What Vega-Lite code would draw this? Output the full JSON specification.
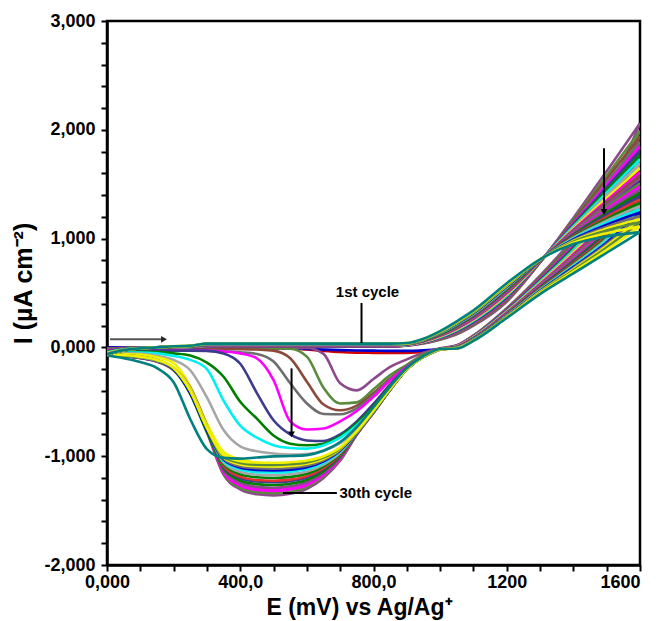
{
  "$schema": "https://vega.github.io/schema/vega-lite/v6.json",
  "width": 533,
  "height": 544,
  "autosize": {"type": "none"},
  "padding": {"left": 107, "top": 21, "right": 20, "bottom": 56},
  "background": "white",
  "config": {
    "view": {"stroke": "black", "strokeWidth": 2.5},
    "font": "Liberation Sans",
    "axis": {
      "grid": false,
      "domainColor": "black",
      "domainWidth": 2.5,
      "labelFont": "Liberation Sans",
      "labelFontWeight": "bold",
      "labelFontSize": 18,
      "labelColor": "black",
      "labelOverlap": false,
      "labelBound": false,
      "titleFont": "Liberation Sans",
      "titleFontWeight": "bold",
      "titleColor": "black"
    }
  },
  "datasets": {
    "cv": [
{"c":1,"e":0,"f":0,"r":0},{"c":1,"e":50,"f":0,"r":0},{"c":1,"e":100,"f":0,"r":0},{"c":1,"e":150,"f":0,"r":0},{"c":1,"e":200,"f":0,"r":0},{"c":1,"e":250,"f":1,"r":0},{"c":1,"e":300,"f":6,"r":-2},{"c":1,"e":350,"f":6,"r":-3},{"c":1,"e":400,"f":6,"r":-4},{"c":1,"e":450,"f":6,"r":-5},{"c":1,"e":500,"f":6,"r":-6},{"c":1,"e":550,"f":6,"r":-10},{"c":1,"e":600,"f":6,"r":-20},{"c":1,"e":650,"f":6,"r":-32},{"c":1,"e":700,"f":6,"r":-42},{"c":1,"e":750,"f":6,"r":-48},{"c":1,"e":800,"f":6,"r":-50},{"c":1,"e":850,"f":6,"r":-52},{"c":1,"e":900,"f":26,"r":-50},{"c":1,"e":950,"f":54,"r":-42},{"c":1,"e":1000,"f":104,"r":-22},{"c":1,"e":1050,"f":172,"r":7},{"c":1,"e":1100,"f":260,"r":89},{"c":1,"e":1200,"f":493,"r":321},{"c":1,"e":1300,"f":793,"r":587},{"c":1,"e":1400,"f":1087,"r":862},{"c":1,"e":1500,"f":1362,"r":1172},{"c":1,"e":1600,"f":1630,"r":1630},
{"c":2,"e":0,"f":0,"r":-8},{"c":2,"e":50,"f":0,"r":-6},{"c":2,"e":100,"f":0,"r":-5},{"c":2,"e":150,"f":0,"r":-4},{"c":2,"e":200,"f":1,"r":-3},{"c":2,"e":250,"f":1,"r":-3},{"c":2,"e":300,"f":7,"r":-3},{"c":2,"e":350,"f":7,"r":-4},{"c":2,"e":400,"f":7,"r":-5},{"c":2,"e":450,"f":7,"r":-6},{"c":2,"e":500,"f":7,"r":-7},{"c":2,"e":550,"f":7,"r":-9},{"c":2,"e":600,"f":7,"r":-14},{"c":2,"e":650,"f":7,"r":-20},{"c":2,"e":700,"f":7,"r":-25},{"c":2,"e":750,"f":7,"r":-28},{"c":2,"e":800,"f":7,"r":-30},{"c":2,"e":850,"f":7,"r":-32},{"c":2,"e":900,"f":28,"r":-32},{"c":2,"e":950,"f":59,"r":-27},{"c":2,"e":1000,"f":112,"r":-15},{"c":2,"e":1050,"f":184,"r":4},{"c":2,"e":1100,"f":274,"r":84},{"c":2,"e":1200,"f":510,"r":312},{"c":2,"e":1300,"f":796,"r":570},{"c":2,"e":1400,"f":1063,"r":830},{"c":2,"e":1500,"f":1302,"r":1119},{"c":2,"e":1600,"f":1530,"r":1530},
{"c":3,"e":0,"f":-8,"r":-15},{"c":3,"e":50,"f":-3,"r":-12},{"c":3,"e":100,"f":-1,"r":-10},{"c":3,"e":150,"f":0,"r":-9},{"c":3,"e":200,"f":1,"r":-8},{"c":3,"e":250,"f":2,"r":-8},{"c":3,"e":300,"f":8,"r":-8},{"c":3,"e":350,"f":8,"r":-8},{"c":3,"e":400,"f":8,"r":-8},{"c":3,"e":450,"f":8,"r":-8},{"c":3,"e":500,"f":8,"r":-8},{"c":3,"e":550,"f":8,"r":-8},{"c":3,"e":600,"f":8,"r":-5},{"c":3,"e":650,"f":8,"r":-60},{"c":3,"e":700,"f":8,"r":-330},{"c":3,"e":750,"f":8,"r":-395},{"c":3,"e":800,"f":8,"r":-290},{"c":3,"e":850,"f":8,"r":-180},{"c":3,"e":900,"f":15,"r":-110},{"c":3,"e":950,"f":35,"r":-50},{"c":3,"e":1000,"f":70,"r":-8},{"c":3,"e":1050,"f":120,"r":20},{"c":3,"e":1100,"f":200,"r":110},{"c":3,"e":1200,"f":420,"r":360},{"c":3,"e":1300,"f":780,"r":660},{"c":3,"e":1400,"f":1190,"r":1000},{"c":3,"e":1500,"f":1620,"r":1400},{"c":3,"e":1600,"f":2060,"r":2060},
{"c":4,"e":0,"f":-15,"r":-20},{"c":4,"e":50,"f":-6,"r":-16},{"c":4,"e":100,"f":-2,"r":-13},{"c":4,"e":150,"f":0,"r":-11},{"c":4,"e":200,"f":1,"r":-10},{"c":4,"e":250,"f":2,"r":-10},{"c":4,"e":300,"f":9,"r":-10},{"c":4,"e":350,"f":9,"r":-10},{"c":4,"e":400,"f":9,"r":-10},{"c":4,"e":450,"f":9,"r":-10},{"c":4,"e":500,"f":9,"r":-10},{"c":4,"e":550,"f":9,"r":-12},{"c":4,"e":600,"f":9,"r":-85},{"c":4,"e":650,"f":9,"r":-370},{"c":4,"e":700,"f":9,"r":-515},{"c":4,"e":750,"f":9,"r":-505},{"c":4,"e":800,"f":9,"r":-385},{"c":4,"e":850,"f":9,"r":-255},{"c":4,"e":900,"f":17,"r":-160},{"c":4,"e":950,"f":38,"r":-65},{"c":4,"e":1000,"f":76,"r":-15},{"c":4,"e":1050,"f":128,"r":18},{"c":4,"e":1100,"f":210,"r":107},{"c":4,"e":1200,"f":432,"r":354},{"c":4,"e":1300,"f":782,"r":648},{"c":4,"e":1400,"f":1173,"r":978},{"c":4,"e":1500,"f":1578,"r":1363},{"c":4,"e":1600,"f":1990,"r":1990},
{"c":5,"e":0,"f":-20,"r":-25},{"c":5,"e":50,"f":-8,"r":-20},{"c":5,"e":100,"f":-3,"r":-17},{"c":5,"e":150,"f":0,"r":-15},{"c":5,"e":200,"f":2,"r":-14},{"c":5,"e":250,"f":2,"r":-13},{"c":5,"e":300,"f":10,"r":-13},{"c":5,"e":350,"f":10,"r":-14},{"c":5,"e":400,"f":10,"r":-16},{"c":5,"e":450,"f":10,"r":-20},{"c":5,"e":500,"f":10,"r":-30},{"c":5,"e":550,"f":10,"r":-100},{"c":5,"e":600,"f":10,"r":-315},{"c":5,"e":650,"f":10,"r":-525},{"c":5,"e":700,"f":10,"r":-578},{"c":5,"e":750,"f":10,"r":-535},{"c":5,"e":800,"f":10,"r":-420},{"c":5,"e":850,"f":10,"r":-285},{"c":5,"e":900,"f":18,"r":-175},{"c":5,"e":950,"f":40,"r":-90},{"c":5,"e":1000,"f":80,"r":-20},{"c":5,"e":1050,"f":134,"r":16},{"c":5,"e":1100,"f":217,"r":104},{"c":5,"e":1200,"f":440,"r":349},{"c":5,"e":1300,"f":784,"r":640},{"c":5,"e":1400,"f":1161,"r":962},{"c":5,"e":1500,"f":1548,"r":1336},{"c":5,"e":1600,"f":1940,"r":1940},
{"c":6,"e":0,"f":-25,"r":-30},{"c":6,"e":50,"f":-10,"r":-25},{"c":6,"e":100,"f":-4,"r":-22},{"c":6,"e":150,"f":0,"r":-20},{"c":6,"e":200,"f":2,"r":-20},{"c":6,"e":250,"f":3,"r":-22},{"c":6,"e":300,"f":11,"r":-25},{"c":6,"e":350,"f":11,"r":-35},{"c":6,"e":400,"f":11,"r":-45},{"c":6,"e":450,"f":11,"r":-60},{"c":6,"e":500,"f":11,"r":-130},{"c":6,"e":550,"f":11,"r":-330},{"c":6,"e":600,"f":11,"r":-515},{"c":6,"e":650,"f":11,"r":-612},{"c":6,"e":700,"f":11,"r":-615},{"c":6,"e":750,"f":11,"r":-560},{"c":6,"e":800,"f":11,"r":-440},{"c":6,"e":850,"f":11,"r":-295},{"c":6,"e":900,"f":19,"r":-175},{"c":6,"e":950,"f":43,"r":-85},{"c":6,"e":1000,"f":84,"r":-18},{"c":6,"e":1050,"f":140,"r":15},{"c":6,"e":1100,"f":224,"r":102},{"c":6,"e":1200,"f":449,"r":345},{"c":6,"e":1300,"f":785,"r":631},{"c":6,"e":1400,"f":1149,"r":946},{"c":6,"e":1500,"f":1518,"r":1310},{"c":6,"e":1600,"f":1890,"r":1890},
{"c":7,"e":0,"f":-30,"r":-35},{"c":7,"e":50,"f":-12,"r":-30},{"c":7,"e":100,"f":-5,"r":-27},{"c":7,"e":150,"f":0,"r":-25},{"c":7,"e":200,"f":2,"r":-25},{"c":7,"e":250,"f":4,"r":-27},{"c":7,"e":300,"f":12,"r":-30},{"c":7,"e":350,"f":12,"r":-38},{"c":7,"e":400,"f":12,"r":-55},{"c":7,"e":450,"f":12,"r":-100},{"c":7,"e":500,"f":12,"r":-300},{"c":7,"e":550,"f":12,"r":-680},{"c":7,"e":600,"f":12,"r":-755},{"c":7,"e":650,"f":12,"r":-745},{"c":7,"e":700,"f":12,"r":-680},{"c":7,"e":750,"f":12,"r":-585},{"c":7,"e":800,"f":12,"r":-455},{"c":7,"e":850,"f":12,"r":-305},{"c":7,"e":900,"f":20,"r":-180},{"c":7,"e":950,"f":44,"r":-85},{"c":7,"e":1000,"f":87,"r":-18},{"c":7,"e":1050,"f":145,"r":14},{"c":7,"e":1100,"f":229,"r":100},{"c":7,"e":1200,"f":456,"r":341},{"c":7,"e":1300,"f":786,"r":624},{"c":7,"e":1400,"f":1140,"r":933},{"c":7,"e":1500,"f":1494,"r":1289},{"c":7,"e":1600,"f":1850,"r":1850},
{"c":8,"e":0,"f":-35,"r":-40},{"c":8,"e":50,"f":-14,"r":-35},{"c":8,"e":100,"f":-5,"r":-32},{"c":8,"e":150,"f":0,"r":-30},{"c":8,"e":200,"f":3,"r":-30},{"c":8,"e":250,"f":4,"r":-30},{"c":8,"e":300,"f":13,"r":-32},{"c":8,"e":350,"f":13,"r":-55},{"c":8,"e":400,"f":13,"r":-150},{"c":8,"e":450,"f":13,"r":-420},{"c":8,"e":500,"f":13,"r":-670},{"c":8,"e":550,"f":13,"r":-800},{"c":8,"e":600,"f":13,"r":-855},{"c":8,"e":650,"f":13,"r":-860},{"c":8,"e":700,"f":13,"r":-800},{"c":8,"e":750,"f":13,"r":-680},{"c":8,"e":800,"f":13,"r":-520},{"c":8,"e":850,"f":13,"r":-340},{"c":8,"e":900,"f":21,"r":-190},{"c":8,"e":950,"f":46,"r":-85},{"c":8,"e":1000,"f":90,"r":-18},{"c":8,"e":1050,"f":150,"r":13},{"c":8,"e":1100,"f":235,"r":98},{"c":8,"e":1200,"f":463,"r":338},{"c":8,"e":1300,"f":788,"r":618},{"c":8,"e":1400,"f":1130,"r":920},{"c":8,"e":1500,"f":1470,"r":1268},{"c":8,"e":1600,"f":1810,"r":1810},
{"c":9,"e":0,"f":-40,"r":-45},{"c":9,"e":50,"f":-16,"r":-42},{"c":9,"e":100,"f":-6,"r":-40},{"c":9,"e":150,"f":0,"r":-42},{"c":9,"e":200,"f":3,"r":-55},{"c":9,"e":250,"f":5,"r":-75},{"c":9,"e":300,"f":14,"r":-140},{"c":9,"e":350,"f":14,"r":-270},{"c":9,"e":400,"f":14,"r":-500},{"c":9,"e":450,"f":14,"r":-655},{"c":9,"e":500,"f":14,"r":-810},{"c":9,"e":550,"f":14,"r":-885},{"c":9,"e":600,"f":14,"r":-900},{"c":9,"e":650,"f":14,"r":-885},{"c":9,"e":700,"f":14,"r":-815},{"c":9,"e":750,"f":14,"r":-700},{"c":9,"e":800,"f":14,"r":-545},{"c":9,"e":850,"f":14,"r":-355},{"c":9,"e":900,"f":22,"r":-195},{"c":9,"e":950,"f":48,"r":-85},{"c":9,"e":1000,"f":93,"r":-18},{"c":9,"e":1050,"f":155,"r":11},{"c":9,"e":1100,"f":241,"r":96},{"c":9,"e":1200,"f":469,"r":334},{"c":9,"e":1300,"f":789,"r":611},{"c":9,"e":1400,"f":1120,"r":907},{"c":9,"e":1500,"f":1446,"r":1246},{"c":9,"e":1600,"f":1770,"r":1770},
{"c":10,"e":0,"f":-45,"r":-50},{"c":10,"e":50,"f":-18,"r":-48},{"c":10,"e":100,"f":-7,"r":-48},{"c":10,"e":150,"f":0,"r":-55},{"c":10,"e":200,"f":3,"r":-78},{"c":10,"e":250,"f":5,"r":-115},{"c":10,"e":300,"f":15,"r":-200},{"c":10,"e":350,"f":15,"r":-490},{"c":10,"e":400,"f":15,"r":-720},{"c":10,"e":450,"f":15,"r":-830},{"c":10,"e":500,"f":15,"r":-900},{"c":10,"e":550,"f":15,"r":-925},{"c":10,"e":600,"f":15,"r":-930},{"c":10,"e":650,"f":15,"r":-900},{"c":10,"e":700,"f":15,"r":-830},{"c":10,"e":750,"f":15,"r":-715},{"c":10,"e":800,"f":15,"r":-560},{"c":10,"e":850,"f":15,"r":-365},{"c":10,"e":900,"f":23,"r":-200},{"c":10,"e":950,"f":50,"r":-85},{"c":10,"e":1000,"f":96,"r":-18},{"c":10,"e":1050,"f":160,"r":10},{"c":10,"e":1100,"f":246,"r":94},{"c":10,"e":1200,"f":476,"r":330},{"c":10,"e":1300,"f":790,"r":604},{"c":10,"e":1400,"f":1111,"r":894},{"c":10,"e":1500,"f":1422,"r":1225},{"c":10,"e":1600,"f":1730,"r":1730},
{"c":11,"e":0,"f":-50,"r":-55},{"c":11,"e":50,"f":-20,"r":-55},{"c":11,"e":100,"f":-8,"r":-58},{"c":11,"e":150,"f":0,"r":-78},{"c":11,"e":200,"f":4,"r":-115},{"c":11,"e":250,"f":6,"r":-210},{"c":11,"e":300,"f":16,"r":-460},{"c":11,"e":350,"f":16,"r":-760},{"c":11,"e":400,"f":16,"r":-910},{"c":11,"e":450,"f":16,"r":-955},{"c":11,"e":500,"f":16,"r":-975},{"c":11,"e":550,"f":16,"r":-985},{"c":11,"e":600,"f":16,"r":-980},{"c":11,"e":650,"f":16,"r":-950},{"c":11,"e":700,"f":16,"r":-880},{"c":11,"e":750,"f":16,"r":-755},{"c":11,"e":800,"f":16,"r":-580},{"c":11,"e":850,"f":16,"r":-375},{"c":11,"e":900,"f":24,"r":-200},{"c":11,"e":950,"f":52,"r":-85},{"c":11,"e":1000,"f":100,"r":-18},{"c":11,"e":1050,"f":164,"r":9},{"c":11,"e":1100,"f":252,"r":92},{"c":11,"e":1200,"f":483,"r":327},{"c":11,"e":1300,"f":791,"r":597},{"c":11,"e":1400,"f":1101,"r":882},{"c":11,"e":1500,"f":1398,"r":1204},{"c":11,"e":1600,"f":1690,"r":1690},
{"c":12,"e":0,"f":-55,"r":-60},{"c":12,"e":50,"f":-22,"r":-62},{"c":12,"e":100,"f":-8,"r":-66},{"c":12,"e":150,"f":0,"r":-90},{"c":12,"e":200,"f":4,"r":-145},{"c":12,"e":250,"f":6,"r":-360},{"c":12,"e":300,"f":17,"r":-700},{"c":12,"e":350,"f":17,"r":-960},{"c":12,"e":400,"f":17,"r":-1030},{"c":12,"e":450,"f":17,"r":-1060},{"c":12,"e":500,"f":17,"r":-1070},{"c":12,"e":550,"f":17,"r":-1065},{"c":12,"e":600,"f":17,"r":-1050},{"c":12,"e":650,"f":17,"r":-1010},{"c":12,"e":700,"f":17,"r":-920},{"c":12,"e":750,"f":17,"r":-780},{"c":12,"e":800,"f":17,"r":-590},{"c":12,"e":850,"f":17,"r":-385},{"c":12,"e":900,"f":25,"r":-205},{"c":12,"e":950,"f":53,"r":-85},{"c":12,"e":1000,"f":103,"r":-18},{"c":12,"e":1050,"f":169,"r":8},{"c":12,"e":1100,"f":257,"r":90},{"c":12,"e":1200,"f":490,"r":323},{"c":12,"e":1300,"f":792,"r":590},{"c":12,"e":1400,"f":1092,"r":869},{"c":12,"e":1500,"f":1374,"r":1183},{"c":12,"e":1600,"f":1650,"r":1650},
{"c":13,"e":0,"f":-60,"r":-67},{"c":13,"e":50,"f":-24,"r":-78},{"c":13,"e":100,"f":-9,"r":-95},{"c":13,"e":150,"f":0,"r":-127},{"c":13,"e":200,"f":4,"r":-198},{"c":13,"e":250,"f":6,"r":-392},{"c":13,"e":300,"f":18,"r":-756},{"c":13,"e":350,"f":18,"r":-1134},{"c":13,"e":400,"f":18,"r":-1253},{"c":13,"e":450,"f":18,"r":-1292},{"c":13,"e":500,"f":18,"r":-1300},{"c":13,"e":550,"f":18,"r":-1287},{"c":13,"e":600,"f":18,"r":-1248},{"c":13,"e":650,"f":18,"r":-1160},{"c":13,"e":700,"f":18,"r":-1016},{"c":13,"e":750,"f":18,"r":-794},{"c":13,"e":800,"f":18,"r":-596},{"c":13,"e":850,"f":18,"r":-388},{"c":13,"e":900,"f":26,"r":-200},{"c":13,"e":950,"f":55,"r":-81},{"c":13,"e":1000,"f":106,"r":-16},{"c":13,"e":1050,"f":174,"r":7},{"c":13,"e":1100,"f":263,"r":88},{"c":13,"e":1200,"f":497,"r":320},{"c":13,"e":1300,"f":794,"r":584},{"c":13,"e":1400,"f":1082,"r":856},{"c":13,"e":1500,"f":1350,"r":1162},{"c":13,"e":1600,"f":1610,"r":1610},
{"c":14,"e":0,"f":-67,"r":-68},{"c":14,"e":50,"f":-27,"r":-80},{"c":14,"e":100,"f":-10,"r":-98},{"c":14,"e":150,"f":0,"r":-130},{"c":14,"e":200,"f":5,"r":-200},{"c":14,"e":250,"f":7,"r":-390},{"c":14,"e":300,"f":19,"r":-759},{"c":14,"e":350,"f":19,"r":-1164},{"c":14,"e":400,"f":19,"r":-1296},{"c":14,"e":450,"f":19,"r":-1340},{"c":14,"e":500,"f":19,"r":-1350},{"c":14,"e":550,"f":19,"r":-1335},{"c":14,"e":600,"f":19,"r":-1291},{"c":14,"e":650,"f":19,"r":-1193},{"c":14,"e":700,"f":19,"r":-1036},{"c":14,"e":750,"f":19,"r":-799},{"c":14,"e":800,"f":19,"r":-599},{"c":14,"e":850,"f":19,"r":-390},{"c":14,"e":900,"f":27,"r":-200},{"c":14,"e":950,"f":57,"r":-80},{"c":14,"e":1000,"f":108,"r":-15},{"c":14,"e":1050,"f":178,"r":6},{"c":14,"e":1100,"f":267,"r":86},{"c":14,"e":1200,"f":502,"r":317},{"c":14,"e":1300,"f":794,"r":578},{"c":14,"e":1400,"f":1075,"r":846},{"c":14,"e":1500,"f":1332,"r":1146},{"c":14,"e":1600,"f":1580,"r":1580},
{"c":15,"e":0,"f":-68,"r":-68},{"c":15,"e":50,"f":-27,"r":-80},{"c":15,"e":100,"f":-10,"r":-98},{"c":15,"e":150,"f":0,"r":-130},{"c":15,"e":200,"f":5,"r":-210},{"c":15,"e":250,"f":8,"r":-410},{"c":15,"e":300,"f":20,"r":-780},{"c":15,"e":350,"f":20,"r":-1170},{"c":15,"e":400,"f":20,"r":-1305},{"c":15,"e":450,"f":20,"r":-1350},{"c":15,"e":500,"f":20,"r":-1360},{"c":15,"e":550,"f":20,"r":-1345},{"c":15,"e":600,"f":20,"r":-1300},{"c":15,"e":650,"f":20,"r":-1200},{"c":15,"e":700,"f":20,"r":-1040},{"c":15,"e":750,"f":20,"r":-800},{"c":15,"e":800,"f":20,"r":-600},{"c":15,"e":850,"f":20,"r":-390},{"c":15,"e":900,"f":28,"r":-200},{"c":15,"e":950,"f":58,"r":-80},{"c":15,"e":1000,"f":111,"r":-15},{"c":15,"e":1050,"f":181,"r":5},{"c":15,"e":1100,"f":271,"r":85},{"c":15,"e":1200,"f":507,"r":314},{"c":15,"e":1300,"f":795,"r":573},{"c":15,"e":1400,"f":1068,"r":837},{"c":15,"e":1500,"f":1314,"r":1130},{"c":15,"e":1600,"f":1550,"r":1550},
{"c":16,"e":0,"f":-68,"r":-68},{"c":16,"e":50,"f":-27,"r":-79},{"c":16,"e":100,"f":-10,"r":-97},{"c":16,"e":150,"f":0,"r":-129},{"c":16,"e":200,"f":5,"r":-199},{"c":16,"e":250,"f":8,"r":-391},{"c":16,"e":300,"f":21,"r":-759},{"c":16,"e":350,"f":21,"r":-1158},{"c":16,"e":400,"f":21,"r":-1288},{"c":16,"e":450,"f":21,"r":-1330},{"c":16,"e":500,"f":21,"r":-1340},{"c":16,"e":550,"f":21,"r":-1326},{"c":16,"e":600,"f":21,"r":-1283},{"c":16,"e":650,"f":21,"r":-1187},{"c":16,"e":700,"f":21,"r":-1032},{"c":16,"e":750,"f":21,"r":-798},{"c":16,"e":800,"f":21,"r":-599},{"c":16,"e":850,"f":21,"r":-389},{"c":16,"e":900,"f":29,"r":-200},{"c":16,"e":950,"f":60,"r":-80},{"c":16,"e":1000,"f":114,"r":-15},{"c":16,"e":1050,"f":186,"r":4},{"c":16,"e":1100,"f":277,"r":83},{"c":16,"e":1200,"f":514,"r":311},{"c":16,"e":1300,"f":797,"r":567},{"c":16,"e":1400,"f":1058,"r":824},{"c":16,"e":1500,"f":1290,"r":1109},{"c":16,"e":1600,"f":1510,"r":1510},
{"c":17,"e":0,"f":-68,"r":-67},{"c":17,"e":50,"f":-27,"r":-79},{"c":17,"e":100,"f":-10,"r":-96},{"c":17,"e":150,"f":0,"r":-128},{"c":17,"e":200,"f":6,"r":-199},{"c":17,"e":250,"f":9,"r":-391},{"c":17,"e":300,"f":22,"r":-757},{"c":17,"e":350,"f":22,"r":-1146},{"c":17,"e":400,"f":22,"r":-1270},{"c":17,"e":450,"f":22,"r":-1311},{"c":17,"e":500,"f":22,"r":-1320},{"c":17,"e":550,"f":22,"r":-1306},{"c":17,"e":600,"f":22,"r":-1265},{"c":17,"e":650,"f":22,"r":-1173},{"c":17,"e":700,"f":22,"r":-1024},{"c":17,"e":750,"f":22,"r":-796},{"c":17,"e":800,"f":22,"r":-597},{"c":17,"e":850,"f":22,"r":-389},{"c":17,"e":900,"f":30,"r":-200},{"c":17,"e":950,"f":61,"r":-81},{"c":17,"e":1000,"f":116,"r":-15},{"c":17,"e":1050,"f":190,"r":3},{"c":17,"e":1100,"f":281,"r":81},{"c":17,"e":1200,"f":519,"r":308},{"c":17,"e":1300,"f":797,"r":561},{"c":17,"e":1400,"f":1051,"r":814},{"c":17,"e":1500,"f":1272,"r":1093},{"c":17,"e":1600,"f":1480,"r":1480},
{"c":18,"e":0,"f":-67,"r":-67},{"c":18,"e":50,"f":-27,"r":-78},{"c":18,"e":100,"f":-10,"r":-95},{"c":18,"e":150,"f":0,"r":-127},{"c":18,"e":200,"f":6,"r":-190},{"c":18,"e":250,"f":9,"r":-370},{"c":18,"e":300,"f":23,"r":-720},{"c":18,"e":350,"f":23,"r":-1128},{"c":18,"e":400,"f":23,"r":-1244},{"c":18,"e":450,"f":23,"r":-1282},{"c":18,"e":500,"f":23,"r":-1290},{"c":18,"e":550,"f":23,"r":-1277},{"c":18,"e":600,"f":23,"r":-1239},{"c":18,"e":650,"f":23,"r":-1153},{"c":18,"e":700,"f":23,"r":-1012},{"c":18,"e":750,"f":23,"r":-793},{"c":18,"e":800,"f":23,"r":-595},{"c":18,"e":850,"f":23,"r":-388},{"c":18,"e":900,"f":30,"r":-200},{"c":18,"e":950,"f":62,"r":-81},{"c":18,"e":1000,"f":119,"r":-16},{"c":18,"e":1050,"f":193,"r":2},{"c":18,"e":1100,"f":285,"r":80},{"c":18,"e":1200,"f":524,"r":305},{"c":18,"e":1300,"f":798,"r":556},{"c":18,"e":1400,"f":1044,"r":805},{"c":18,"e":1500,"f":1254,"r":1077},{"c":18,"e":1600,"f":1450,"r":1450},
{"c":19,"e":0,"f":-67,"r":-66},{"c":19,"e":50,"f":-27,"r":-77},{"c":19,"e":100,"f":-10,"r":-94},{"c":19,"e":150,"f":0,"r":-125},{"c":19,"e":200,"f":6,"r":-197},{"c":19,"e":250,"f":10,"r":-393},{"c":19,"e":300,"f":24,"r":-754},{"c":19,"e":350,"f":24,"r":-1113},{"c":19,"e":400,"f":24,"r":-1223},{"c":19,"e":450,"f":24,"r":-1257},{"c":19,"e":500,"f":24,"r":-1265},{"c":19,"e":550,"f":24,"r":-1253},{"c":19,"e":600,"f":24,"r":-1218},{"c":19,"e":650,"f":24,"r":-1137},{"c":19,"e":700,"f":24,"r":-1002},{"c":19,"e":750,"f":24,"r":-790},{"c":19,"e":800,"f":24,"r":-594},{"c":19,"e":850,"f":24,"r":-387},{"c":19,"e":900,"f":31,"r":-200},{"c":19,"e":950,"f":64,"r":-82},{"c":19,"e":1000,"f":121,"r":-16},{"c":19,"e":1050,"f":197,"r":1},{"c":19,"e":1100,"f":290,"r":78},{"c":19,"e":1200,"f":529,"r":302},{"c":19,"e":1300,"f":799,"r":551},{"c":19,"e":1400,"f":1036,"r":795},{"c":19,"e":1500,"f":1236,"r":1061},{"c":19,"e":1600,"f":1420,"r":1420},
{"c":20,"e":0,"f":-66,"r":-66},{"c":20,"e":50,"f":-26,"r":-76},{"c":20,"e":100,"f":-10,"r":-93},{"c":20,"e":150,"f":0,"r":-124},{"c":20,"e":200,"f":7,"r":-196},{"c":20,"e":250,"f":10,"r":-394},{"c":20,"e":300,"f":25,"r":-752},{"c":20,"e":350,"f":25,"r":-1098},{"c":20,"e":400,"f":25,"r":-1201},{"c":20,"e":450,"f":25,"r":-1233},{"c":20,"e":500,"f":25,"r":-1240},{"c":20,"e":550,"f":25,"r":-1229},{"c":20,"e":600,"f":25,"r":-1196},{"c":20,"e":650,"f":25,"r":-1120},{"c":20,"e":700,"f":25,"r":-992},{"c":20,"e":750,"f":25,"r":-788},{"c":20,"e":800,"f":25,"r":-592},{"c":20,"e":850,"f":25,"r":-386},{"c":20,"e":900,"f":32,"r":-200},{"c":20,"e":950,"f":65,"r":-82},{"c":20,"e":1000,"f":124,"r":-16},{"c":20,"e":1050,"f":200,"r":0},{"c":20,"e":1100,"f":294,"r":77},{"c":20,"e":1200,"f":534,"r":300},{"c":20,"e":1300,"f":800,"r":546},{"c":20,"e":1400,"f":1029,"r":786},{"c":20,"e":1500,"f":1218,"r":1045},{"c":20,"e":1600,"f":1390,"r":1390},
{"c":21,"e":0,"f":-66,"r":-65},{"c":21,"e":50,"f":-26,"r":-76},{"c":21,"e":100,"f":-10,"r":-92},{"c":21,"e":150,"f":0,"r":-123},{"c":21,"e":200,"f":7,"r":-196},{"c":21,"e":250,"f":11,"r":-395},{"c":21,"e":300,"f":26,"r":-751},{"c":21,"e":350,"f":26,"r":-1089},{"c":21,"e":400,"f":26,"r":-1188},{"c":21,"e":450,"f":26,"r":-1219},{"c":21,"e":500,"f":26,"r":-1225},{"c":21,"e":550,"f":26,"r":-1215},{"c":21,"e":600,"f":26,"r":-1183},{"c":21,"e":650,"f":26,"r":-1110},{"c":21,"e":700,"f":26,"r":-986},{"c":21,"e":750,"f":26,"r":-787},{"c":21,"e":800,"f":26,"r":-591},{"c":21,"e":850,"f":26,"r":-386},{"c":21,"e":900,"f":33,"r":-200},{"c":21,"e":950,"f":67,"r":-82},{"c":21,"e":1000,"f":126,"r":-16},{"c":21,"e":1050,"f":204,"r":-1},{"c":21,"e":1100,"f":298,"r":75},{"c":21,"e":1200,"f":539,"r":297},{"c":21,"e":1300,"f":801,"r":541},{"c":21,"e":1400,"f":1022,"r":776},{"c":21,"e":1500,"f":1200,"r":1029},{"c":21,"e":1600,"f":1360,"r":1360},
{"c":22,"e":0,"f":-65,"r":-65},{"c":22,"e":50,"f":-26,"r":-75},{"c":22,"e":100,"f":-10,"r":-91},{"c":22,"e":150,"f":0,"r":-122},{"c":22,"e":200,"f":7,"r":-205},{"c":22,"e":250,"f":11,"r":-430},{"c":22,"e":300,"f":27,"r":-780},{"c":22,"e":350,"f":27,"r":-1074},{"c":22,"e":400,"f":27,"r":-1166},{"c":22,"e":450,"f":27,"r":-1194},{"c":22,"e":500,"f":27,"r":-1200},{"c":22,"e":550,"f":27,"r":-1190},{"c":22,"e":600,"f":27,"r":-1161},{"c":22,"e":650,"f":27,"r":-1093},{"c":22,"e":700,"f":27,"r":-976},{"c":22,"e":750,"f":27,"r":-784},{"c":22,"e":800,"f":27,"r":-589},{"c":22,"e":850,"f":27,"r":-385},{"c":22,"e":900,"f":33,"r":-200},{"c":22,"e":950,"f":68,"r":-83},{"c":22,"e":1000,"f":128,"r":-17},{"c":22,"e":1050,"f":208,"r":-2},{"c":22,"e":1100,"f":302,"r":74},{"c":22,"e":1200,"f":544,"r":294},{"c":22,"e":1300,"f":802,"r":536},{"c":22,"e":1400,"f":1015,"r":766},{"c":22,"e":1500,"f":1182,"r":1013},{"c":22,"e":1600,"f":1330,"r":1330},
{"c":23,"e":0,"f":-65,"r":-64},{"c":23,"e":50,"f":-26,"r":-74},{"c":23,"e":100,"f":-10,"r":-90},{"c":23,"e":150,"f":0,"r":-121},{"c":23,"e":200,"f":8,"r":-194},{"c":23,"e":250,"f":12,"r":-396},{"c":23,"e":300,"f":28,"r":-748},{"c":23,"e":350,"f":28,"r":-1059},{"c":23,"e":400,"f":28,"r":-1145},{"c":23,"e":450,"f":28,"r":-1170},{"c":23,"e":500,"f":28,"r":-1175},{"c":23,"e":550,"f":28,"r":-1166},{"c":23,"e":600,"f":28,"r":-1140},{"c":23,"e":650,"f":28,"r":-1077},{"c":23,"e":700,"f":28,"r":-966},{"c":23,"e":750,"f":28,"r":-781},{"c":23,"e":800,"f":28,"r":-588},{"c":23,"e":850,"f":28,"r":-384},{"c":23,"e":900,"f":34,"r":-200},{"c":23,"e":950,"f":69,"r":-83},{"c":23,"e":1000,"f":131,"r":-17},{"c":23,"e":1050,"f":211,"r":-3},{"c":23,"e":1100,"f":306,"r":72},{"c":23,"e":1200,"f":549,"r":292},{"c":23,"e":1300,"f":803,"r":531},{"c":23,"e":1400,"f":1008,"r":757},{"c":23,"e":1500,"f":1164,"r":997},{"c":23,"e":1600,"f":1300,"r":1300},
{"c":24,"e":0,"f":-64,"r":-64},{"c":24,"e":50,"f":-26,"r":-73},{"c":24,"e":100,"f":-10,"r":-89},{"c":24,"e":150,"f":0,"r":-120},{"c":24,"e":200,"f":8,"r":-193},{"c":24,"e":250,"f":12,"r":-397},{"c":24,"e":300,"f":29,"r":-746},{"c":24,"e":350,"f":29,"r":-1044},{"c":24,"e":400,"f":29,"r":-1123},{"c":24,"e":450,"f":29,"r":-1146},{"c":24,"e":500,"f":29,"r":-1150},{"c":24,"e":550,"f":29,"r":-1142},{"c":24,"e":600,"f":29,"r":-1118},{"c":24,"e":650,"f":29,"r":-1060},{"c":24,"e":700,"f":29,"r":-956},{"c":24,"e":750,"f":29,"r":-779},{"c":24,"e":800,"f":29,"r":-586},{"c":24,"e":850,"f":29,"r":-383},{"c":24,"e":900,"f":35,"r":-200},{"c":24,"e":950,"f":71,"r":-84},{"c":24,"e":1000,"f":133,"r":-17},{"c":24,"e":1050,"f":215,"r":-4},{"c":24,"e":1100,"f":311,"r":71},{"c":24,"e":1200,"f":554,"r":289},{"c":24,"e":1300,"f":804,"r":526},{"c":24,"e":1400,"f":1000,"r":747},{"c":24,"e":1500,"f":1146,"r":981},{"c":24,"e":1600,"f":1270,"r":1270},
{"c":25,"e":0,"f":-64,"r":-63},{"c":25,"e":50,"f":-26,"r":-72},{"c":25,"e":100,"f":-10,"r":-88},{"c":25,"e":150,"f":0,"r":-118},{"c":25,"e":200,"f":8,"r":-200},{"c":25,"e":250,"f":13,"r":-420},{"c":25,"e":300,"f":30,"r":-760},{"c":25,"e":350,"f":30,"r":-1032},{"c":25,"e":400,"f":30,"r":-1106},{"c":25,"e":450,"f":30,"r":-1126},{"c":25,"e":500,"f":30,"r":-1130},{"c":25,"e":550,"f":30,"r":-1123},{"c":25,"e":600,"f":30,"r":-1101},{"c":25,"e":650,"f":30,"r":-1047},{"c":25,"e":700,"f":30,"r":-948},{"c":25,"e":750,"f":30,"r":-777},{"c":25,"e":800,"f":30,"r":-585},{"c":25,"e":850,"f":30,"r":-382},{"c":25,"e":900,"f":36,"r":-200},{"c":25,"e":950,"f":72,"r":-84},{"c":25,"e":1000,"f":136,"r":-17},{"c":25,"e":1050,"f":218,"r":-5},{"c":25,"e":1100,"f":315,"r":69},{"c":25,"e":1200,"f":559,"r":286},{"c":25,"e":1300,"f":805,"r":521},{"c":25,"e":1400,"f":993,"r":738},{"c":25,"e":1500,"f":1128,"r":965},{"c":25,"e":1600,"f":1240,"r":1240},
{"c":26,"e":0,"f":-63,"r":-63},{"c":26,"e":50,"f":-25,"r":-72},{"c":26,"e":100,"f":-9,"r":-87},{"c":26,"e":150,"f":0,"r":-118},{"c":26,"e":200,"f":9,"r":-192},{"c":26,"e":250,"f":13,"r":-398},{"c":26,"e":300,"f":31,"r":-744},{"c":26,"e":350,"f":31,"r":-1023},{"c":26,"e":400,"f":31,"r":-1093},{"c":26,"e":450,"f":31,"r":-1111},{"c":26,"e":500,"f":31,"r":-1115},{"c":26,"e":550,"f":31,"r":-1108},{"c":26,"e":600,"f":31,"r":-1088},{"c":26,"e":650,"f":31,"r":-1037},{"c":26,"e":700,"f":31,"r":-942},{"c":26,"e":750,"f":31,"r":-775},{"c":26,"e":800,"f":31,"r":-584},{"c":26,"e":850,"f":31,"r":-382},{"c":26,"e":900,"f":36,"r":-200},{"c":26,"e":950,"f":73,"r":-84},{"c":26,"e":1000,"f":138,"r":-17},{"c":26,"e":1050,"f":222,"r":-6},{"c":26,"e":1100,"f":319,"r":68},{"c":26,"e":1200,"f":565,"r":284},{"c":26,"e":1300,"f":806,"r":516},{"c":26,"e":1400,"f":986,"r":728},{"c":26,"e":1500,"f":1110,"r":950},{"c":26,"e":1600,"f":1210,"r":1210},
{"c":27,"e":0,"f":-63,"r":-63},{"c":27,"e":50,"f":-25,"r":-71},{"c":27,"e":100,"f":-9,"r":-87},{"c":27,"e":150,"f":0,"r":-117},{"c":27,"e":200,"f":9,"r":-185},{"c":27,"e":250,"f":14,"r":-380},{"c":27,"e":300,"f":32,"r":-720},{"c":27,"e":350,"f":32,"r":-1011},{"c":27,"e":400,"f":32,"r":-1075},{"c":27,"e":450,"f":32,"r":-1092},{"c":27,"e":500,"f":32,"r":-1095},{"c":27,"e":550,"f":32,"r":-1089},{"c":27,"e":600,"f":32,"r":-1070},{"c":27,"e":650,"f":32,"r":-1023},{"c":27,"e":700,"f":32,"r":-934},{"c":27,"e":750,"f":32,"r":-774},{"c":27,"e":800,"f":32,"r":-582},{"c":27,"e":850,"f":32,"r":-381},{"c":27,"e":900,"f":37,"r":-200},{"c":27,"e":950,"f":75,"r":-84},{"c":27,"e":1000,"f":140,"r":-18},{"c":27,"e":1050,"f":226,"r":-6},{"c":27,"e":1100,"f":323,"r":66},{"c":27,"e":1200,"f":570,"r":281},{"c":27,"e":1300,"f":806,"r":510},{"c":27,"e":1400,"f":979,"r":718},{"c":27,"e":1500,"f":1092,"r":934},{"c":27,"e":1600,"f":1180,"r":1180},
{"c":28,"e":0,"f":-63,"r":-62},{"c":28,"e":50,"f":-25,"r":-71},{"c":28,"e":100,"f":-9,"r":-86},{"c":28,"e":150,"f":0,"r":-116},{"c":28,"e":200,"f":9,"r":-191},{"c":28,"e":250,"f":14,"r":-399},{"c":28,"e":300,"f":33,"r":-741},{"c":28,"e":350,"f":33,"r":-1002},{"c":28,"e":400,"f":33,"r":-1062},{"c":28,"e":450,"f":33,"r":-1078},{"c":28,"e":500,"f":33,"r":-1080},{"c":28,"e":550,"f":33,"r":-1074},{"c":28,"e":600,"f":33,"r":-1057},{"c":28,"e":650,"f":33,"r":-1013},{"c":28,"e":700,"f":33,"r":-928},{"c":28,"e":750,"f":33,"r":-772},{"c":28,"e":800,"f":33,"r":-581},{"c":28,"e":850,"f":33,"r":-381},{"c":28,"e":900,"f":38,"r":-200},{"c":28,"e":950,"f":76,"r":-85},{"c":28,"e":1000,"f":143,"r":-18},{"c":28,"e":1050,"f":229,"r":-7},{"c":28,"e":1100,"f":327,"r":65},{"c":28,"e":1200,"f":575,"r":278},{"c":28,"e":1300,"f":807,"r":505},{"c":28,"e":1400,"f":972,"r":709},{"c":28,"e":1500,"f":1074,"r":918},{"c":28,"e":1600,"f":1150,"r":1150},
{"c":29,"e":0,"f":-62,"r":-62},{"c":29,"e":50,"f":-25,"r":-70},{"c":29,"e":100,"f":-9,"r":-85},{"c":29,"e":150,"f":0,"r":-115},{"c":29,"e":200,"f":10,"r":-190},{"c":29,"e":250,"f":15,"r":-400},{"c":29,"e":300,"f":34,"r":-740},{"c":29,"e":350,"f":34,"r":-990},{"c":29,"e":400,"f":34,"r":-1045},{"c":29,"e":450,"f":34,"r":-1058},{"c":29,"e":500,"f":34,"r":-1060},{"c":29,"e":550,"f":34,"r":-1055},{"c":29,"e":600,"f":34,"r":-1040},{"c":29,"e":650,"f":34,"r":-1000},{"c":29,"e":700,"f":34,"r":-920},{"c":29,"e":750,"f":34,"r":-770},{"c":29,"e":800,"f":34,"r":-580},{"c":29,"e":850,"f":34,"r":-380},{"c":29,"e":900,"f":39,"r":-200},{"c":29,"e":950,"f":78,"r":-85},{"c":29,"e":1000,"f":146,"r":-18},{"c":29,"e":1050,"f":234,"r":-9},{"c":29,"e":1100,"f":333,"r":62},{"c":29,"e":1200,"f":582,"r":275},{"c":29,"e":1300,"f":809,"r":499},{"c":29,"e":1400,"f":962,"r":696},{"c":29,"e":1500,"f":1050,"r":896},{"c":29,"e":1600,"f":1110,"r":1110},
{"c":30,"e":0,"f":-62,"r":-75},{"c":30,"e":50,"f":-25,"r":-100},{"c":30,"e":100,"f":-9,"r":-135},{"c":30,"e":150,"f":0,"r":-190},{"c":30,"e":200,"f":10,"r":-320},{"c":30,"e":250,"f":15,"r":-660},{"c":30,"e":300,"f":35,"r":-935},{"c":30,"e":350,"f":35,"r":-1015},{"c":30,"e":400,"f":35,"r":-1022},{"c":30,"e":450,"f":35,"r":-1012},{"c":30,"e":500,"f":35,"r":-1002},{"c":30,"e":550,"f":35,"r":-998},{"c":30,"e":600,"f":35,"r":-990},{"c":30,"e":650,"f":35,"r":-950},{"c":30,"e":700,"f":35,"r":-870},{"c":30,"e":750,"f":35,"r":-730},{"c":30,"e":800,"f":35,"r":-550},{"c":30,"e":850,"f":35,"r":-360},{"c":30,"e":900,"f":40,"r":-190},{"c":30,"e":950,"f":80,"r":-80},{"c":30,"e":1000,"f":150,"r":-15},{"c":30,"e":1050,"f":240,"r":-10},{"c":30,"e":1100,"f":340,"r":60},{"c":30,"e":1200,"f":590,"r":270},{"c":30,"e":1300,"f":810,"r":490},{"c":30,"e":1400,"f":950,"r":680},{"c":30,"e":1500,"f":1020,"r":870},{"c":30,"e":1600,"f":1060,"r":1060}
    ],
    "notes": [
      {"kind": "label", "e": 764, "e2": 764, "i": 408, "i2": 40},
      {"kind": "label", "e": 528, "e2": 690, "i": -1338, "i2": -1338},
      {"kind": "arrow", "e": 554, "e2": 554, "i": -193, "i2": -790},
      {"kind": "arrow", "e": 1492, "e2": 1492, "i": 1830, "i2": 1255}
    ]
  },
  "encoding": {
    "x": {
      "type": "quantitative",
      "title": "E (mV) vs Ag/Ag⁺",
      "scale": {"domain": [0, 1600], "nice": false, "zero": false},
      "axis": {
        "ticks": true,
        "tickColor": "black",
        "tickWidth": 2,
        "tickSize": 6,
        "titleFontSize": 23,
        "titlePadding": 5,
        "titleX": 252,
        "labelPadding": 2,
        "values": [0, 100, 200, 300, 400, 500, 600, 700, 800, 900, 1000, 1100, 1200, 1300, 1400, 1500, 1600],
        "labelExpr": "datum.value == 0 ? '0,000' : datum.value == 400 ? '400,0' : datum.value == 800 ? '800,0' : datum.value == 1200 ? '1200' : datum.value == 1600 ? '1600' : ''",
        "labelAlign": {"condition": {"test": "datum.value == 1600", "value": "right"}, "value": "center"}
      }
    },
    "y": {
      "type": "quantitative",
      "title": "I (µA cm⁻²)",
      "scale": {"domain": [-2000, 3000], "nice": false, "zero": false},
      "axis": {
        "ticks": true,
        "tickColor": "black",
        "tickWidth": 2,
        "tickSize": 6,
        "titleFontSize": 25,
        "titlePadding": 7,
        "titleY": 262,
        "labelPadding": 6,
        "values": [-2000, -1800, -1600, -1400, -1200, -1000, -800, -600, -400, -200, 0, 200, 400, 600, 800, 1000, 1200, 1400, 1600, 1800, 2000, 2200, 2400, 2600, 2800, 3000],
        "labelExpr": "datum.value == 3000 ? '3,000' : datum.value == 2000 ? '2,000' : datum.value == 1000 ? '1,000' : datum.value == 0 ? '0,000' : datum.value == -1000 ? '-1,000' : datum.value == -2000 ? '-2,000' : ''"
      }
    }
  },
  "layer": [
    {
      "data": {"name": "cv"},
      "mark": {"type": "line", "interpolate": "monotone", "strokeWidth": 2.6, "clip": true},
      "encoding": {
        "x": {"field": "e"},
        "y": {"field": "r"},
        "color": {
          "field": "c", "type": "nominal", "legend": null,
          "scale": {
            "domain": [1,2,3,4,5,6,7,8,9,10,11,12,13,14,15,16,17,18,19,20,21,22,23,24,25,26,27,28,29,30],
            "range": ["#d40000","#0000cc","#8c4a8c","#5a8a3c","#8b4a3a","#6e6e6e","#ff00ff","#3c3c8c","#008000","#00f0f0","#a6a6a6","#f0f000","#ff00ff","#8b4a3a","#8c4a8c","#5a8a3c","#ff00ff","#8c4a8c","#008000","#3c3c8c","#e83030","#008000","#a6a6a6","#00f0f0","#0000cc","#6e6e6e","#f0f000","#5a8a3c","#f0f000","#008080"]
          }
        }
      }
    },
    {
      "data": {"name": "cv"},
      "mark": {"type": "line", "interpolate": "monotone", "strokeWidth": 2.6, "clip": true},
      "encoding": {
        "x": {"field": "e"},
        "y": {"field": "f"},
        "color": {"field": "c", "type": "nominal", "legend": null}
      }
    },
    {
      "data": {"name": "notes"},
      "mark": {"type": "rule", "color": "black", "strokeWidth": 2},
      "encoding": {
        "x": {"field": "e"},
        "x2": {"field": "e2"},
        "y": {"field": "i"},
        "y2": {"field": "i2"}
      }
    },
    {
      "data": {"values": [{"e": 9, "e2": 163, "i": 74, "i2": 74}]},
      "mark": {"type": "rule", "color": "#555555", "strokeWidth": 2},
      "encoding": {
        "x": {"field": "e"},
        "x2": {"field": "e2"},
        "y": {"field": "i"},
        "y2": {"field": "i2"}
      }
    },
    {
      "data": {"values": [{"e": 171, "i": 74}]},
      "mark": {"type": "point", "shape": "triangle-right", "filled": true, "color": "#222222", "size": 45, "opacity": 1},
      "encoding": {
        "x": {"field": "e"},
        "y": {"field": "i"}
      }
    },
    {
      "data": {"values": [{"e": 554, "i": -800}, {"e": 1492, "i": 1245}]},
      "mark": {"type": "point", "shape": "triangle-down", "filled": true, "color": "black", "size": 45, "opacity": 1},
      "encoding": {
        "x": {"field": "e"},
        "y": {"field": "i"}
      }
    },
    {
      "data": {"values": [{"e": 782, "i": 509, "t": "1st cycle"}]},
      "mark": {"type": "text", "font": "Liberation Sans", "fontWeight": "bold", "fontSize": 15, "align": "center", "baseline": "middle", "color": "black"},
      "encoding": {
        "x": {"field": "e"},
        "y": {"field": "i"},
        "text": {"field": "t"}
      }
    },
    {
      "data": {"values": [{"e": 698, "i": -1338, "t": "30th cycle"}]},
      "mark": {"type": "text", "font": "Liberation Sans", "fontWeight": "bold", "fontSize": 15, "align": "left", "baseline": "middle", "color": "black"},
      "encoding": {
        "x": {"field": "e"},
        "y": {"field": "i"},
        "text": {"field": "t"}
      }
    }
  ]
}
